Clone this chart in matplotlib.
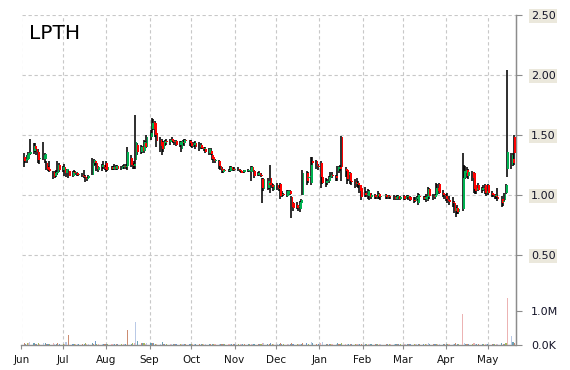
import matplotlib
matplotlib.use("Agg")
import matplotlib.pyplot as plt
import matplotlib.dates as mdates
import numpy as np
import pandas as pd

title = "LPTH"
start_date = "2019-06-03"
end_date = "2020-05-20"
axis_start = "2019-06-01"

# Daily OHLC (one row per month of business days)
opens = [
    1.32,1.28,1.29,1.30,1.34,1.37,1.41,1.38,1.36,1.30,1.30,1.30,1.27,1.23,1.22,1.19,1.16,1.18,1.18,1.25,
    1.21,1.23,1.18,1.21,1.20,1.16,1.19,1.18,1.18,1.17,1.17,1.16,1.15,1.13,1.14,1.17,1.27,1.28,1.27,1.21,1.23,1.25,1.23,
    1.27,1.21,1.23,1.22,1.23,1.22,1.24,1.22,1.23,1.24,1.23,1.24,1.31,1.25,1.24,1.29,1.42,1.36,1.40,1.37,1.43,1.40,
    1.48,1.55,1.61,1.60,1.52,1.46,1.44,1.38,1.43,1.45,1.44,1.47,1.45,1.44,1.45,1.42,1.38,1.44,1.43,1.46,1.45,
    1.43,1.41,1.42,1.43,1.40,1.42,1.40,1.38,1.38,1.35,1.37,1.33,1.32,1.28,1.28,1.24,1.22,1.19,1.21,1.20,1.20,1.23,1.22,
    1.21,1.22,1.21,1.20,1.19,1.19,1.20,1.20,1.19,1.23,1.20,1.17,1.18,1.17,1.13,1.05,1.06,1.10,1.14,1.08,1.04,
    1.08,1.06,1.09,1.00,1.01,0.99,1.01,1.03,0.98,0.93,0.92,0.90,0.88,0.93,1.00,1.18,1.14,1.15,1.10,1.28,1.28,1.24,
    1.23,1.27,1.15,1.10,1.11,1.12,1.15,1.17,1.16,1.20,1.22,1.23,1.48,1.22,1.21,1.17,1.18,1.12,1.11,1.09,1.10,1.08,1.06,
    1.02,1.00,0.99,1.02,0.98,1.00,0.98,0.99,1.01,0.98,0.99,1.00,0.98,0.99,0.98,0.98,0.97,0.98,0.99,0.97,
    0.99,0.97,0.98,0.99,0.98,0.96,0.95,0.97,0.93,0.99,0.98,0.97,0.96,0.98,1.05,0.99,0.98,1.00,1.06,1.09,1.02,1.00,
    0.99,0.97,0.96,0.94,0.93,0.87,0.89,0.86,0.88,1.14,1.18,1.21,1.16,1.19,1.18,1.08,1.04,1.08,1.04,1.06,1.08,1.02,
    1.08,1.02,1.01,0.99,0.99,0.98,0.97,0.94,0.96,1.02,1.22,1.25,1.30,1.48,
]
highs = [
    1.35,1.31,1.33,1.36,1.47,1.43,1.43,1.41,1.38,1.33,1.44,1.35,1.28,1.24,1.28,1.20,1.20,1.21,1.28,1.27,
    1.24,1.26,1.22,1.21,1.22,1.20,1.21,1.20,1.19,1.18,1.18,1.21,1.17,1.15,1.17,1.31,1.30,1.29,1.28,1.24,1.26,1.28,1.25,
    1.28,1.24,1.24,1.24,1.26,1.25,1.25,1.24,1.25,1.26,1.26,1.40,1.33,1.27,1.28,1.67,1.43,1.42,1.41,1.46,1.45,1.50,
    1.54,1.64,1.63,1.62,1.58,1.48,1.47,1.45,1.46,1.47,1.47,1.48,1.47,1.46,1.46,1.45,1.45,1.46,1.47,1.47,1.46,
    1.46,1.44,1.44,1.45,1.44,1.43,1.41,1.40,1.40,1.39,1.39,1.34,1.33,1.30,1.29,1.26,1.23,1.22,1.22,1.22,1.24,1.24,1.23,
    1.23,1.23,1.22,1.21,1.20,1.21,1.22,1.21,1.24,1.24,1.21,1.19,1.20,1.18,1.14,1.14,1.14,1.12,1.25,1.10,1.09,
    1.10,1.08,1.10,1.03,1.02,1.04,1.04,1.04,0.99,0.94,0.94,0.92,0.95,0.97,1.21,1.20,1.19,1.15,1.32,1.32,1.29,1.26,
    1.23,1.28,1.18,1.14,1.13,1.16,1.19,1.19,1.17,1.24,1.24,1.25,1.49,1.23,1.22,1.21,1.19,1.15,1.13,1.14,1.12,1.09,1.06,
    1.07,1.03,1.05,1.04,1.02,1.01,1.00,1.03,1.02,1.00,0.99,1.01,1.00,1.00,0.99,1.00,0.99,1.00,1.00,0.99,
    1.00,0.99,1.00,1.00,0.99,0.98,0.98,0.99,1.02,1.01,0.99,0.99,1.01,1.07,1.06,1.01,1.01,1.10,1.09,1.10,1.04,1.01,
    1.01,1.02,0.99,0.98,0.95,0.90,0.92,0.89,1.35,1.25,1.24,1.23,1.22,1.20,1.19,1.10,1.08,1.10,1.07,1.08,1.09,1.05,
    1.09,1.03,1.02,1.01,1.00,1.06,0.99,0.97,1.02,1.09,2.04,1.35,1.35,1.50,
]
lows = [
    1.23,1.27,1.27,1.29,1.33,1.34,1.36,1.33,1.27,1.26,1.29,1.27,1.21,1.20,1.19,1.13,1.14,1.15,1.17,1.19,
    1.19,1.16,1.15,1.21,1.14,1.15,1.17,1.17,1.16,1.16,1.15,1.14,1.11,1.12,1.13,1.17,1.24,1.25,1.20,1.19,1.20,1.22,1.21,
    1.19,1.20,1.21,1.21,1.21,1.21,1.21,1.21,1.22,1.22,1.22,1.21,1.23,1.22,1.22,1.22,1.33,1.34,1.35,1.35,1.38,1.39,
    1.46,1.52,1.54,1.48,1.40,1.36,1.33,1.36,1.41,1.42,1.42,1.44,1.43,1.42,1.41,1.40,1.36,1.42,1.41,1.43,1.41,
    1.40,1.39,1.40,1.38,1.37,1.38,1.38,1.37,1.35,1.33,1.33,1.29,1.27,1.27,1.22,1.21,1.18,1.18,1.19,1.19,1.19,1.20,1.20,
    1.20,1.20,1.19,1.18,1.18,1.18,1.19,1.19,1.12,1.19,1.14,1.16,1.16,1.15,0.93,1.03,1.04,1.05,1.02,1.06,1.03,
    1.04,1.03,0.97,0.98,0.99,0.98,0.99,1.00,0.81,0.87,0.88,0.87,0.86,0.90,1.00,1.08,1.10,1.15,1.08,1.22,1.22,1.21,
    1.23,1.06,1.09,1.07,1.08,1.10,1.13,1.14,1.12,1.12,1.18,1.20,1.12,1.15,1.09,1.12,1.09,1.08,1.06,1.07,1.06,1.02,0.96,
    0.98,0.98,0.97,0.96,0.97,0.97,0.97,0.97,0.97,0.96,0.99,0.97,0.97,0.97,0.97,0.96,0.96,0.97,0.96,0.96,
    0.96,0.96,0.97,0.96,0.95,0.93,0.94,0.96,0.92,0.96,0.96,0.96,0.94,0.95,0.97,0.96,0.97,0.99,1.00,1.01,0.98,0.97,
    0.95,0.93,0.92,0.90,0.85,0.82,0.84,0.84,0.87,1.12,1.13,1.14,1.13,1.12,1.02,1.01,1.01,1.03,1.02,1.03,1.01,0.99,
    1.00,0.98,0.98,0.97,0.97,0.95,0.90,0.91,0.95,1.01,1.15,1.22,1.24,1.25,
]
closes = [
    1.28,1.30,1.33,1.35,1.36,1.41,1.38,1.36,1.29,1.31,1.33,1.34,1.22,1.21,1.20,1.15,1.18,1.19,1.25,1.21,
    1.23,1.18,1.21,1.21,1.16,1.19,1.18,1.19,1.17,1.17,1.16,1.15,1.13,1.14,1.16,1.27,1.29,1.27,1.22,1.23,1.25,1.23,1.22,
    1.21,1.23,1.22,1.23,1.22,1.24,1.22,1.23,1.24,1.23,1.24,1.36,1.25,1.24,1.26,1.44,1.36,1.40,1.37,1.44,1.40,1.48,
    1.52,1.60,1.55,1.50,1.45,1.41,1.38,1.44,1.45,1.44,1.46,1.45,1.44,1.45,1.42,1.44,1.45,1.43,1.46,1.45,1.43,
    1.41,1.42,1.43,1.40,1.42,1.39,1.38,1.39,1.36,1.38,1.34,1.30,1.28,1.29,1.24,1.22,1.20,1.21,1.20,1.21,1.23,1.22,1.21,
    1.22,1.21,1.20,1.18,1.19,1.21,1.20,1.20,1.23,1.20,1.16,1.18,1.17,1.16,1.06,1.13,1.12,1.08,1.08,1.07,1.08,
    1.06,1.05,0.99,1.01,1.00,1.03,1.03,1.01,0.90,0.89,0.89,0.91,0.94,0.96,1.18,1.12,1.15,1.15,1.25,1.27,1.24,1.23,
    1.23,1.15,1.10,1.12,1.12,1.15,1.17,1.16,1.14,1.23,1.23,1.22,1.23,1.20,1.13,1.18,1.12,1.11,1.09,1.10,1.08,1.03,0.98,
    1.00,1.01,1.03,0.98,1.00,0.98,0.99,1.01,0.98,0.99,0.99,0.98,0.99,0.98,0.98,0.97,0.98,0.99,0.97,0.98,
    0.97,0.98,0.99,0.97,0.96,0.95,0.97,0.98,1.00,0.98,0.97,0.98,0.99,1.05,0.99,0.98,1.00,1.06,1.03,1.02,1.00,0.99,
    0.97,0.95,0.94,0.93,0.87,0.89,0.86,0.88,1.14,1.20,1.21,1.16,1.19,1.14,1.05,1.03,1.06,1.04,1.06,1.05,1.02,1.03,
    1.02,1.00,0.99,0.99,0.98,0.97,0.93,0.95,1.01,1.08,1.36,1.33,1.27,1.35,
]
# Daily volume, thousands of shares
volumes_k = [
    45,35,60,45,80,50,40,35,55,30,70,45,40,30,35,50,30,25,45,30,
    40,35,100,5,300,40,30,35,25,30,30,35,45,30,25,60,40,120,40,30,35,40,30,
    35,30,25,30,30,25,30,25,30,35,40,450,40,45,60,680,120,60,50,45,40,50,
    50,60,45,40,35,30,100,25,30,25,30,30,25,30,25,30,25,30,25,30,25,
    30,25,30,35,25,30,25,30,25,30,35,30,25,30,35,30,25,30,25,30,35,30,25,
    30,25,30,25,30,35,25,30,40,30,25,30,25,30,60,45,40,35,50,25,30,
    35,30,50,30,25,30,35,30,60,40,35,30,40,35,70,45,30,5,100,50,40,30,
    5,60,100,40,35,30,35,30,30,45,30,30,60,30,40,35,30,30,25,30,25,35,40,
    35,30,30,25,30,25,25,30,25,25,5,25,30,25,25,30,25,25,30,25,
    25,30,25,30,25,30,35,25,40,30,25,30,35,45,30,25,30,40,35,30,25,30,
    30,35,25,30,40,45,35,30,910,60,40,35,30,35,45,30,25,30,25,30,35,30,
    35,30,25,30,25,40,45,35,40,60,1390,270,80,60,
]
price_ticks = [0.5, 1.0, 1.5, 2.0, 2.5]
price_labels = ["0.50", "1.00", "1.50", "2.00", "2.50"]
volume_ticks = [0, 1_000_000]
volume_labels = ["0.0K", "1.0M"]

UP = "#00b050"
DOWN = "#ff0000"
GRID = "#c8c8c8"
AXIS = "#8c8c8c"
VOL_COLORS = ["#c0704d", "#4f81bd", "#8faa3a", "#e8a0a0", "#a8bce0", "#4a8aa0"]

dates = pd.bdate_range(start_date, end_date)
n = min(len(dates), len(opens), len(highs), len(lows), len(closes), len(volumes_k))
xd = mdates.date2num(dates[:n].to_pydatetime())
o = np.array(opens[:n]); h = np.array(highs[:n]); l = np.array(lows[:n]); c = np.array(closes[:n])
v = np.array(volumes_k[:n]) * 1000.0

W, H = 570, 370
fig = plt.figure(figsize=(W / 100, H / 100), dpi=100)
left, right, top, bottom = 21.5, 515.5, 15, 345
ax = fig.add_axes([left / W, 1 - bottom / H, (right - left) / W, (bottom - top) / H])

x0 = mdates.date2num(pd.Timestamp(axis_start).to_pydatetime())
ax.set_xlim(x0, x0 + 354.8)
ax.set_ylim(-0.25, 2.5)

# volume axis (created first so the price axis keeps its right-side ticks)
ax2 = ax.twinx()
ax2.set_ylim(0, 1e6 * (bottom - top) / 34.0)

# grid
months = pd.date_range(axis_start, "2020-05-01", freq="MS")
ax.set_xticks(mdates.date2num(months.to_pydatetime()))
ax.xaxis.set_major_formatter(mdates.DateFormatter("%b"))
ax.set_yticks(price_ticks)
ax.set_yticklabels(price_labels)
ax.grid(True, color=GRID, linestyle=(0, (3, 2.4)), linewidth=0.8)
ax.set_axisbelow(True)

for s in ("left", "top"):
    ax.spines[s].set_visible(False)
for s in ("right", "bottom"):
    ax.spines[s].set_color(AXIS)
    ax.spines[s].set_linewidth(1.0)

ax.yaxis.tick_right()
ax.tick_params(axis="y", which="both", left=False, labelleft=False, right=True, labelright=True,
               direction="out", length=4, width=0.8, color=AXIS,
               labelsize=8, pad=7, labelcolor="#141428")
ax.tick_params(axis="x", direction="out", length=3, width=0.8, color=AXIS,
               labelsize=7.5, pad=4, labelcolor="#141414")
for lab in ax.get_yticklabels():
    lab.set_bbox(dict(facecolor="#ebe8dc", edgecolor="none", pad=1.2))

# candles
ax.vlines(xd - 0.25, l, h, color="black", linewidth=1.15, zorder=3)
body_bottom = np.minimum(o, c)
body_h = np.maximum(np.abs(c - o), 0.006)
colors = [UP if cc >= oo else DOWN for oo, cc in zip(o, c)]
ax.bar(xd + 0.6, body_h, bottom=body_bottom, width=1.2, color=colors,
       linewidth=0, zorder=4)

# volume bars
vcols = [VOL_COLORS[i % len(VOL_COLORS)] for i in range(n)]
ax2.bar(xd, v, width=0.8, color=vcols, alpha=0.8, linewidth=0, zorder=2)
ax2.set_yticks(volume_ticks)
ax2.set_yticklabels(volume_labels)
ax2.tick_params(axis="y", direction="out", length=4, width=0.8, color=AXIS,
                labelsize=8, pad=7, labelcolor="#141428")
for s in ("left", "top", "bottom"):
    ax2.spines[s].set_visible(False)
ax2.spines["right"].set_color(AXIS)

fig.text(29 / W, 1 - 39 / H, title, fontsize=14.5, color="black",
         ha="left", va="baseline")

fig.savefig("out.png", dpi=100, facecolor="white")
